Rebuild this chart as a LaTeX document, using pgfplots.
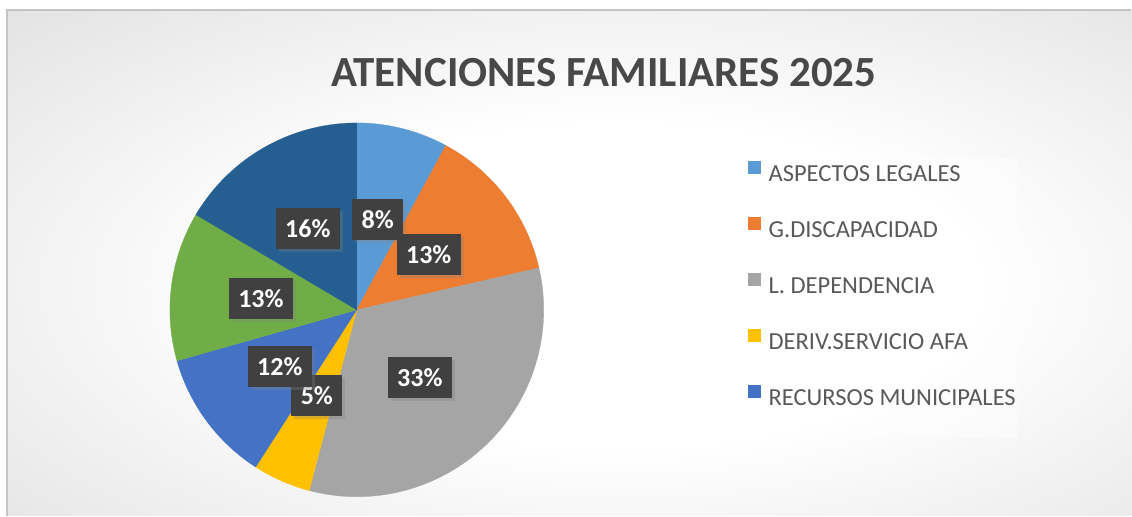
\documentclass[border=0pt]{standalone}
\usepackage{pgfplots}
\pgfplotsset{compat=1.18}
\usepackage{fontspec}
\setmainfont{Carlito}
\usetikzlibrary{shadows}
\definecolor{c1}{HTML}{5B9BD5}
\definecolor{c2}{HTML}{ED7D31}
\definecolor{c3}{HTML}{A5A5A5}
\definecolor{c4}{HTML}{FFC000}
\definecolor{c5}{HTML}{4472C4}
\definecolor{c6}{HTML}{70AD47}
\definecolor{c7}{HTML}{255E91}
\definecolor{txt}{HTML}{595959}
\definecolor{ttl}{HTML}{484848}
\definecolor{lbl}{HTML}{404040}
\tikzset{lab/.style={fill=lbl, text=white, font=\bfseries\fontsize{26}{30}\selectfont,
    inner xsep=9.5pt, minimum height=41pt,
    drop shadow={shadow xshift=3pt, shadow yshift=-3pt, opacity=0.3}}}
\pgfdeclareradialshading{bgshade}{\pgfpoint{0bp}{0bp}}{color(0bp)=(white); color(14bp)=(white); color(48bp)=(black!19); color(71bp)=(black!24)}
% percentages of each slice (clockwise from 12 o'clock)
\def\vA{7.9}\def\vB{13.5}\def\vC{32.7}\def\vD{5.0}\def\vE{11.5}\def\vF{12.9}\def\vG{16.5}
\pgfmathsetmacro\sA{0}
\pgfmathsetmacro\sB{\sA+3.6*\vA}
\pgfmathsetmacro\sC{\sB+3.6*\vB}
\pgfmathsetmacro\sD{\sC+3.6*\vC}
\pgfmathsetmacro\sE{\sD+3.6*\vD}
\pgfmathsetmacro\sF{\sE+3.6*\vE}
\pgfmathsetmacro\sG{\sF+3.6*\vF}
\pgfmathsetmacro\sH{\sG+3.6*\vG}
\begin{document}
\begin{tikzpicture}[x=1pt,y=1pt]
\fill[white] (0,0) rectangle (1132,516);
\begin{scope}
\clip (7,0) rectangle (1132,506);
\shade[shading=bgshade] (-20,-60) rectangle (1260,520);
\end{scope}
\draw[black!23, line width=1.2pt] (7,0) -- (7,506) -- (1132,506);
\node[font=\bfseries\fontsize{43}{50}\selectfont, text=ttl, anchor=base] at (604,429) {ATENCIONES FAMILIARES 2025};
\fill[white, fill opacity=0.45] (738,78) rectangle (1018,358);
\begin{axis}[
  at={(357pt,206pt)}, anchor=center,
  width=374pt, height=374pt, scale only axis,
  xmin=-1, xmax=1, ymin=-1, ymax=1,
  hide axis, clip=false,
  legend image code/.code={\fill[#1, draw=none] (0pt,1pt) rectangle (13pt,14pt);},
  legend style={at={(1.545,0.898)}, anchor=north west, draw=none, fill=none,
    inner sep=0pt, row sep=31pt, column sep=8pt,
    font=\fontsize{24.5}{29}\selectfont, text=txt,
    nodes={inner xsep=0pt, inner ysep=0pt, text height=17pt, text depth=5pt}},
  legend cell align=left,
]
\addplot[fill=c1, draw=c1, line width=0.3pt, domain=\sA:\sB, samples=40] ({sin(x)},{cos(x)}) -- (axis cs:0,0) -- cycle;
\addplot[fill=c2, draw=c2, line width=0.3pt, domain=\sB:\sC, samples=40] ({sin(x)},{cos(x)}) -- (axis cs:0,0) -- cycle;
\addplot[fill=c3, draw=c3, line width=0.3pt, domain=\sC:\sD, samples=80] ({sin(x)},{cos(x)}) -- (axis cs:0,0) -- cycle;
\addplot[fill=c4, draw=c4, line width=0.3pt, domain=\sD:\sE, samples=20] ({sin(x)},{cos(x)}) -- (axis cs:0,0) -- cycle;
\addplot[fill=c5, draw=c5, line width=0.3pt, domain=\sE:\sF, samples=40] ({sin(x)},{cos(x)}) -- (axis cs:0,0) -- cycle;
\addplot[fill=c6, draw=c6, line width=0.3pt, domain=\sF:\sG, samples=40, forget plot] ({sin(x)},{cos(x)}) -- (axis cs:0,0) -- cycle;
\addplot[fill=c7, draw=c7, line width=0.3pt, domain=\sG:\sH, samples=40, forget plot] ({sin(x)},{cos(x)}) -- (axis cs:0,0) -- cycle;
\legend{ASPECTOS LEGALES, G.DISCAPACIDAD, L. DEPENDENCIA, DERIV.SERVICIO AFA, RECURSOS MUNICIPALES}
\node[lab] at (axis cs:0.112,0.481) {8\%};
\node[lab] at (axis cs:0.385,0.294) {13\%};
\node[lab] at (axis cs:0.337,-0.364) {33\%};
\node[lab] at (axis cs:-0.214,-0.460) {5\%};
\node[lab] at (axis cs:-0.412,-0.305) {12\%};
\node[lab] at (axis cs:-0.513,0.059) {13\%};
\node[lab] at (axis cs:-0.262,0.433) {16\%};
\end{axis}
\end{tikzpicture}
\end{document}
